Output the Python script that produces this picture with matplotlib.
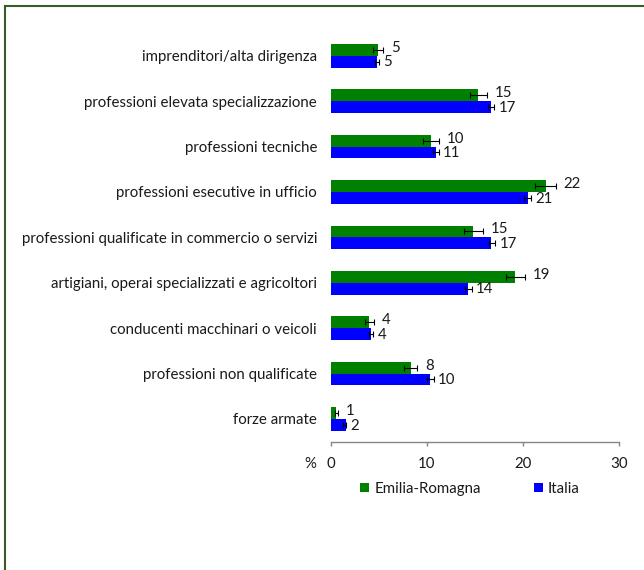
import matplotlib
matplotlib.use("Agg")
import matplotlib.pyplot as plt
import numpy as np
from matplotlib.lines import Line2D
from matplotlib.patches import Patch

plt.rcParams['font.family'] = ['Lato', 'DejaVu Sans']

categories = [
    "imprenditori/alta dirigenza",
    "professioni elevata specializzazione",
    "professioni tecniche",
    "professioni esecutive in ufficio",
    "professioni qualificate in commercio o servizi",
    "artigiani, operai specializzati e agricoltori",
    "conducenti macchinari o veicoli",
    "professioni non qualificate",
    "forze armate",
]
er = [4.86, 15.35, 10.38, 22.36, 14.8, 19.2, 4.0, 8.3, 0.55]
er_lo = [4.35, 14.48, 9.6, 21.3, 13.9, 18.2, 3.5, 7.6, 0.4]
er_hi = [5.45, 16.3, 11.25, 23.4, 15.8, 20.2, 4.5, 9.0, 0.77]
it = [4.76, 16.7, 10.9, 20.55, 16.7, 14.3, 4.2, 10.3, 1.52]
it_lo = [4.6, 16.4, 10.66, 20.1, 16.5, 14.0, 4.0, 10.0, 1.25]
it_hi = [5.0, 17.0, 11.2, 20.8, 17.1, 14.65, 4.4, 10.7, 1.56]
xticks = [0, 10, 20, 30]
series_names = ["Emilia-Romagna", "Italia"]

GREEN = "#008000"
BLUE = "#0000FF"
TXT = "#1a1a1a"
AXC = "#868686"
FS = 10.8

fig = plt.figure(figsize=(6.44, 5.70), dpi=100)
ax = fig.add_axes([331/644, 1-441.7/570, 288/644, (441.7-33)/570])

y = np.arange(len(categories))
h = 0.26
er_a = np.array(er); it_a = np.array(it)
er_err = [er_a - np.array(er_lo), np.array(er_hi) - er_a]
it_err = [it_a - np.array(it_lo), np.array(it_hi) - it_a]

ax.barh(y - h/2, er_a, height=h, color=GREEN, zorder=2)
ax.barh(y + h/2, it_a, height=h, color=BLUE, zorder=2)
ax.errorbar(er_a, y - h/2, xerr=er_err, fmt='none', ecolor='black', elinewidth=0.8, capsize=2.0, capthick=0.8, zorder=3)
ax.errorbar(it_a, y + h/2, xerr=it_err, fmt='none', ecolor='black', elinewidth=0.8, capsize=2.0, capthick=0.8, zorder=3)

for i in range(len(categories)):
    ax.annotate(f"{er[i]:.0f}", xy=(er_hi[i], y[i] - h/2), xytext=(5.5, 1.5), textcoords='offset points',
                ha='left', va='center', fontsize=FS, color=TXT)
    ax.annotate(f"{it[i]:.0f}", xy=(it_hi[i], y[i] + h/2), xytext=(3.2, -0.5), textcoords='offset points',
                ha='left', va='center', fontsize=FS, color=TXT)

ax.set_xlim(0, 30)
ax.set_ylim(len(categories) - 0.5, -0.5)
ax.set_xticks(xticks)
ax.set_xticklabels([str(t) for t in xticks])
ax.set_yticks(y)
ax.set_yticklabels(categories)
for s in ['top', 'right', 'left']:
    ax.spines[s].set_visible(False)
ax.spines['bottom'].set_color(AXC)
ax.spines['bottom'].set_linewidth(1.0)
ax.tick_params(axis='x', direction='out', length=3, width=1.0, color=AXC, pad=8, labelsize=FS, labelcolor=TXT)
ax.tick_params(axis='y', length=0, pad=10, labelsize=FS, labelcolor=TXT)

ax.annotate("%", xy=(-2.2, 0), xycoords=ax.get_xaxis_transform(), xytext=(0, -11), textcoords='offset points',
            ha='center', va='top', fontsize=FS, color=TXT)

handles = [Patch(facecolor=GREEN), Patch(facecolor=BLUE)]
fig.legend(handles, series_names, loc='center', bbox_to_anchor=(470/644, 1-489/570), ncol=2, frameon=False,
           fontsize=FS, handlelength=0.6, handleheight=0.6, handletextpad=0.35, columnspacing=3.5,
           labelcolor=TXT)

BORDER = "#3b5a2a"
fig.add_artist(Line2D([4.5/644, 4.5/644], [0, 1-6/570], transform=fig.transFigure, color=BORDER, lw=1.5))
fig.add_artist(Line2D([4.5/644, 1], [1-6/570, 1-6/570], transform=fig.transFigure, color=BORDER, lw=1.5))

fig.savefig("out.png", dpi=100)
